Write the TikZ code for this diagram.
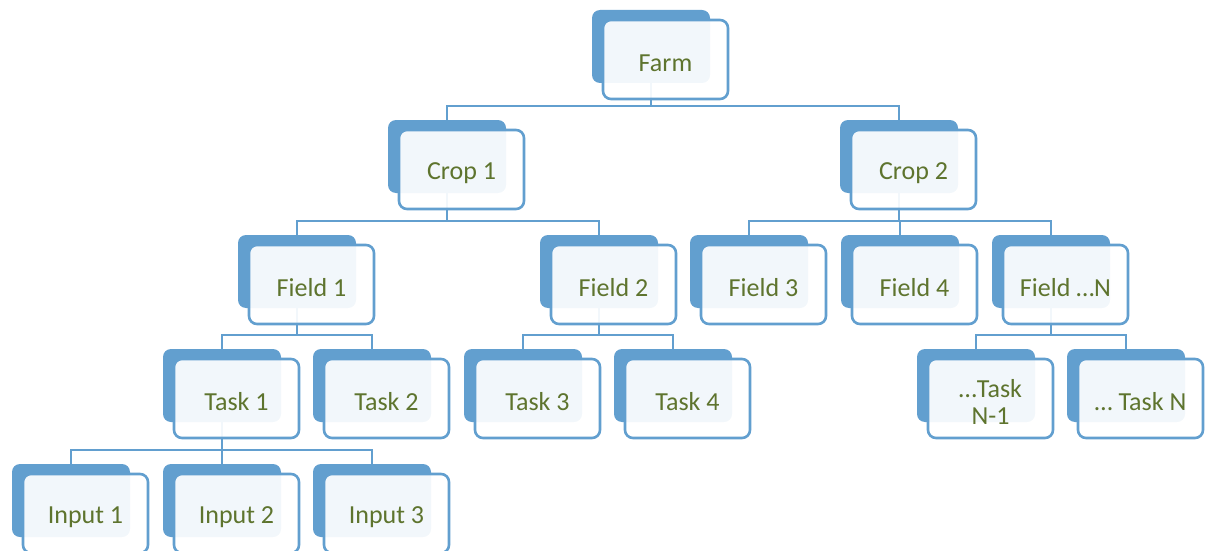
\documentclass[tikz,border=0pt]{standalone}
\usepackage{fontspec}
\setmainfont{Carlito}
\usetikzlibrary{calc}
\definecolor{boxblue}{RGB}{98,159,207}
\definecolor{olivetext}{RGB}{94,116,46}
\tikzset{
  backbox/.style={rectangle, rounded corners=8pt, fill=boxblue, draw=none,
    minimum width=118pt, minimum height=73pt, inner sep=0pt},
  frontbox/.style={rectangle, rounded corners=8pt, draw=boxblue, line width=2.6pt,
    fill=white, fill opacity=0.92,
    minimum width=125pt, minimum height=79pt, inner sep=0pt},
  boxtext/.style={text=olivetext, align=center, inner sep=0pt,
    font=\fontsize{26}{27}\selectfont},
  conn/.style={draw=boxblue, line width=2.4pt}
}
\newcommand\treebox[4]{%
  \node[backbox] (#1) at (#2+59,#3+36.5) {};
}
\newcommand\treefront[4]{%
  \node[frontbox] (#1-f) at (#2+73.5,#3+49.5) {};
  \node[boxtext] (#1-t) at (#2+73.5,#3+53) {#4};
}
\begin{document}
\begin{tikzpicture}[x=1pt,y=-1pt]
\useasboundingbox (0,0) rectangle (1205,551);
\clip (0,0) rectangle (1205,551);
% back boxes (positions: left, top)
\treebox{farm}{592}{10}{}
\treebox{crop1}{388}{120}{}
\treebox{crop2}{840}{120}{}
\treebox{field1}{238}{235}{}
\treebox{field2}{540}{235}{}
\treebox{field3}{690}{235}{}
\treebox{field4}{841}{235}{}
\treebox{fieldN}{992}{235}{}
\treebox{task1}{163}{349}{}
\treebox{task2}{313}{349}{}
\treebox{task3}{464}{349}{}
\treebox{task4}{614}{349}{}
\treebox{taskN1}{917}{349}{}
\treebox{taskN}{1067}{349}{}
\treebox{input1}{12}{464}{}
\treebox{input2}{163}{464}{}
\treebox{input3}{313}{464}{}
% connectors
\foreach \p/\c in {farm/crop1, farm/crop2,
  crop1/field1, crop1/field2,
  crop2/field3, crop2/field4, crop2/fieldN,
  field1/task1, field1/task2,
  field2/task3, field2/task4,
  fieldN/taskN1, fieldN/taskN,
  task1/input1, task1/input2, task1/input3}{
  \draw[conn] (\p.south) |- ($(\c.north)+(0,-14)$) -- (\c.north);
}
% front boxes
\treefront{farm}{592}{10}{Farm}
\treefront{crop1}{388}{120}{Crop 1}
\treefront{crop2}{840}{120}{Crop 2}
\treefront{field1}{238}{235}{Field 1}
\treefront{field2}{540}{235}{Field 2}
\treefront{field3}{690}{235}{Field 3}
\treefront{field4}{841}{235}{Field 4}
\treefront{fieldN}{992}{235}{Field …N}
\treefront{task1}{163}{349}{Task 1}
\treefront{task2}{313}{349}{Task 2}
\treefront{task3}{464}{349}{Task 3}
\treefront{task4}{614}{349}{Task 4}
\treefront{taskN1}{917}{349}{…Task\\N-1}
\treefront{taskN}{1067}{349}{… Task N}
\treefront{input1}{12}{464}{Input 1}
\treefront{input2}{163}{464}{Input 2}
\treefront{input3}{313}{464}{Input 3}
\end{tikzpicture}
\end{document}
